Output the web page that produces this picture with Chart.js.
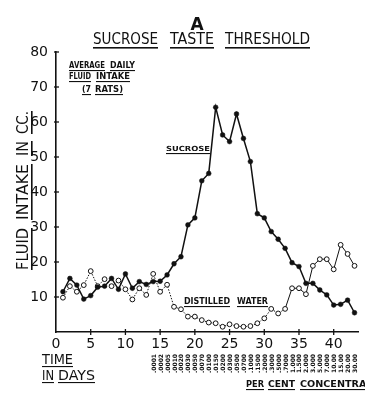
<!DOCTYPE html>
<html>
<head>
<meta charset="utf-8">
<script src="https://cdn.jsdelivr.net/npm/chart.js@4.4.0/dist/chart.umd.min.js"></script>
<style>
html, body { margin: 0; padding: 0; background: #fff; }
#wrap { width: 365px; height: 400px; }
</style>
</head>
<body>
<div id="wrap"><canvas id="chart" width="365" height="400"></canvas></div>
<script>
'use strict';

// days of the experiment
var days = [1, 2, 3, 4, 5, 6, 7, 8, 9, 10, 11, 12, 13, 14, 15, 16, 17, 18, 19, 20, 21, 22,
    23, 24, 25, 26, 27, 28, 29, 30, 31, 32, 33, 34, 35, 36, 37, 38, 39, 40, 41, 42, 43];

// average daily fluid intake, cc
var sucrose = [11.5, 15.3, 13.4, 9.4, 10.4, 12.8, 13.1, 15.3, 12.2, 16.6, 12.5, 14.4, 13.6, 14.4,
    14.5, 16.3, 19.5, 21.5, 30.6, 32.6, 43.2, 45.3, 64.2, 56.3, 54.4, 62.3, 55.3, 48.7, 33.8,
    32.6, 28.7, 26.5, 23.9, 19.8, 18.7, 13.9, 13.9, 12.0, 10.6, 7.7, 7.9, 9.1, 5.5];
var water = [9.8, 13.1, 11.5, 13.4, 17.4, 13.1, 15.1, 13.1, 14.7, 12.2, 9.3, 12.5, 10.6, 16.6,
    11.5, 13.5, 7.2, 6.5, 4.4, 4.4, 3.4, 2.7, 2.5, 1.5, 2.2, 1.7, 1.5, 1.7, 2.5, 3.9, 6.6, 5.3,
    6.6, 12.5, 12.5, 10.8, 18.9, 20.8, 20.8, 17.9, 24.9, 22.3, 18.9];

var xTicks = [0, 5, 10, 15, 20, 25, 30, 35, 40];
var yTicks = [10, 20, 30, 40, 50, 60, 70, 80];

// per cent concentration printed under each day
var concDays = [14, 15, 16, 17, 18, 19, 20, 21, 22, 23, 24, 25, 26, 27, 28, 29, 30, 31, 32, 33,
    34, 35, 36, 37, 38, 39, 40, 41, 42, 43];
var concLabels = ['.0001', '.0002', '.0005', '.0010', '.0020', '.0030', '.0050', '.0070', '.0100',
    '.0150', '.0200', '.0300', '.0500', '.0700', '.1000', '.1500', '.2000', '.3000', '.5000',
    '.7000', '1.000', '1.500', '2.000', '3.000', '5.000', '7.000', '10.00', '15.00', '20.00', '30.00'];

var FONT = '"DejaVu Sans"';
var INK = '#111';

function word(ctx, s, x, y, size, w, bold, ul) {
    ctx.save();
    ctx.font = (bold ? 'bold ' : '') + size + 'px ' + FONT;
    var m = ctx.measureText(s).width;
    ctx.translate(x, y);
    ctx.scale(w / m, 1);
    ctx.textAlign = 'left';
    ctx.textBaseline = 'alphabetic';
    ctx.fillText(s, 0, 0);
    ctx.restore();
    if (ul) {
        ctx.fillRect(x, y + ul, w, ul > 2 ? 1.6 : 1.1);
    }
}

var textPlugin = {
    id: 'texts',
    afterDraw: function (chart) {
        var ctx = chart.ctx;
        var xs = chart.scales.x, ys = chart.scales.y;
        ctx.save();
        ctx.fillStyle = INK;
        ctx.strokeStyle = INK;

        // title
        ctx.font = 'bold 17px ' + FONT;
        ctx.textAlign = 'center';
        ctx.fillText('A', 197, 30);
        word(ctx, 'SUCROSE', 93, 44, 15, 65, false, 3);
        word(ctx, 'TASTE', 170, 44, 15, 44, false, 3);
        word(ctx, 'THRESHOLD', 225, 44, 15, 85, false, 3);

        // legend note
        word(ctx, 'AVERAGE', 69, 68, 8, 36, true, 2);
        word(ctx, 'DAILY', 110, 68, 8, 25, true, 2);
        word(ctx, 'FLUID', 69, 79, 8, 22, true, 2);
        word(ctx, 'INTAKE', 96, 79, 8, 34, true, 2);
        word(ctx, '(7', 82, 92, 8, 9, true, 2);
        word(ctx, 'RATS)', 95, 92, 8, 28, true, 2);

        // series labels
        word(ctx, 'SUCROSE', 166, 151, 7, 44, true, 2);
        word(ctx, 'DISTILLED', 184, 304, 8, 46, true, 2);
        word(ctx, 'WATER', 237, 304, 8, 31, true, 2);

        // y title (rotated)
        ctx.save();
        ctx.translate(28, 0);
        ctx.rotate(-Math.PI / 2);
        word(ctx, 'FLUID', -270, 0, 15, 42, false, 3);
        word(ctx, 'INTAKE', -220, 0, 15, 56, false, 3);
        word(ctx, 'IN', -156, 0, 15, 15, false, 3);
        word(ctx, 'CC.', -134, 0, 15, 23, false, 3);
        ctx.restore();

        // tick marks crossing the axes
        ctx.lineWidth = 1.3;
        yTicks.forEach(function (v) {
            var y = ys.getPixelForValue(v);
            ctx.beginPath();
            ctx.moveTo(xs.left - 2, y);
            ctx.lineTo(xs.left + 3, y);
            ctx.stroke();
        });
        xTicks.forEach(function (v) {
            if (v === 0) return;
            var x = xs.getPixelForValue(v);
            ctx.beginPath();
            ctx.moveTo(x, ys.bottom - 3);
            ctx.lineTo(x, ys.bottom + 3);
            ctx.stroke();
        });

        // time label
        word(ctx, 'TIME', 42, 364, 14, 31, false, 2);
        word(ctx, 'IN', 42, 380, 14, 12, false, 2);
        word(ctx, 'DAYS', 58, 380, 14, 37, false, 2);

        // concentrations
        ctx.font = 'bold 6px ' + FONT;
        concDays.forEach(function (d, i) {
            var x = xs.getPixelForValue(d);
            ctx.save();
            ctx.translate(x + 2.5, 373);
            ctx.rotate(-Math.PI / 2);
            ctx.textAlign = 'left';
            ctx.fillText(concLabels[i], 0, 0);
            ctx.restore();
        });
        word(ctx, 'PER', 246, 387, 9, 18, true, 2);
        word(ctx, 'CENT', 268, 387, 9, 27, true, 2);
        word(ctx, 'CONCENTRATION', 300, 387, 9, 92, true, 2);

        ctx.restore();
    }
};

function pts(arr) {
    return days.map(function (d, i) { return { x: d, y: arr[i] }; });
}

new Chart(document.getElementById('chart'), {
    type: 'line',
    data: {
        datasets: [
            {
                label: 'Sucrose',
                data: pts(sucrose),
                borderColor: INK,
                borderWidth: 1.5,
                pointRadius: 2.4,
                pointBackgroundColor: INK,
                pointBorderColor: INK,
                pointBorderWidth: 0.5,
                tension: 0
            },
            {
                label: 'Distilled water',
                data: pts(water),
                borderColor: INK,
                borderWidth: 1,
                pointRadius: 2.4,
                pointBackgroundColor: '#fff',
                pointBorderColor: INK,
                pointBorderWidth: 1,
                tension: 0,
                segment: {
                    borderDash: function (c) { return c.p0.parsed.x < 33 ? [1.5, 1.5] : undefined; }
                }
            }
        ]
    },
    options: {
        responsive: false,
        animation: false,
        devicePixelRatio: 1,
        layout: { padding: { top: 52, right: 7, bottom: 44, left: 0 } },
        plugins: { legend: { display: false }, tooltip: { enabled: false } },
        scales: {
            x: {
                type: 'linear',
                min: 0,
                max: 43.5,
                afterBuildTicks: function (s) { s.ticks = xTicks.map(function (v) { return { value: v }; }); },
                afterFit: function (s) { s.height = 24; },
                grid: { display: false, drawTicks: false },
                border: { display: true, color: INK, width: 1.6 },
                ticks: { color: INK, font: { family: 'DejaVu Sans', size: 14 }, padding: 4, maxRotation: 0, autoSkip: false }
            },
            y: {
                min: 0,
                max: 80,
                afterBuildTicks: function (s) { s.ticks = yTicks.map(function (v) { return { value: v }; }); },
                afterFit: function (s) { s.width = 56; },
                grid: { display: false, drawTicks: false },
                border: { display: true, color: INK, width: 1.6 },
                ticks: { color: INK, font: { family: 'DejaVu Sans', size: 14 }, padding: 8 }
            }
        }
    },
    plugins: [textPlugin]
});
</script>
</body>
</html>
